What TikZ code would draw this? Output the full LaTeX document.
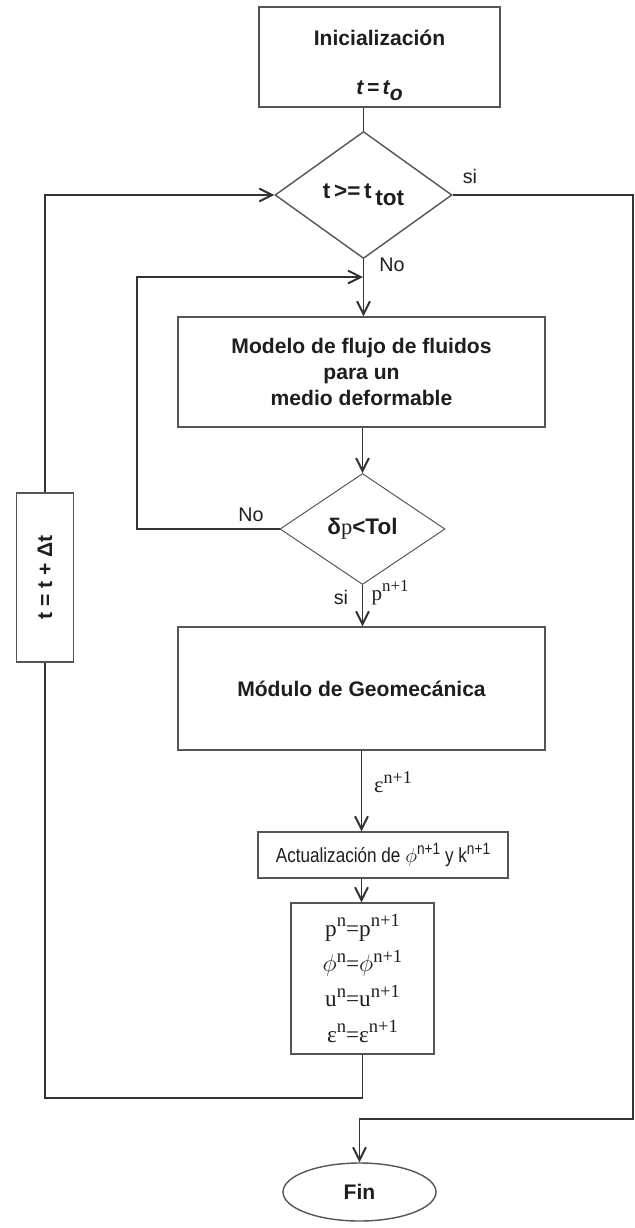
\documentclass[tikz,border=0pt]{standalone}
\usepackage{fontspec}
\usepackage{graphicx}
\usepackage{tikz}
\usetikzlibrary{arrows.meta,shapes.geometric,calc}
\setmainfont{Liberation Sans}
\newfontfamily\flowserif{Liberation Serif}
\newfontfamily\flownarrow[FakeStretch=0.84]{Liberation Sans}
\definecolor{flowink}{HTML}{333333}
\definecolor{flowedge}{HTML}{555555}
\definecolor{flowtext}{HTML}{1E1E1E}
\newcommand{\upidx}[1]{\raisebox{0.42em}{\scalebox{0.8}{#1}}}
\tikzset{
  flowbox/.style={draw=flowedge,line width=1pt,text=flowtext,inner sep=0pt,align=center,font=\bfseries\fontsize{15}{18.5}\selectfont},
  flowtest/.style={diamond,draw=flowedge,line width=1pt,inner sep=0pt,text=flowtext,font=\bfseries\fontsize{16}{18}\selectfont},
  flowarr/.style={-{Straight Barb[length=3.2mm,width=3.2mm]},draw=flowink,line width=1.4pt},
  flowlink/.style={draw=flowink,line width=1.4pt},
  flowlbl/.style={text=flowtext,font=\fontsize{14}{16}\selectfont,inner sep=0pt}
}
\begin{document}
\begin{tikzpicture}[x=0.25mm,y=-0.25mm]
\useasboundingbox (0,0) rectangle (635,1228);
\node[flowbox,minimum width=60.25mm,minimum height=25mm] (init) at (379.5,57) {\rule{0pt}{8mm}Inicialización\\[5.8mm]\textit{t\,=\,t\raisebox{-0.25em}{o}}};
\node[flowtest,minimum width=44.25mm,minimum height=31.75mm] (cond) at (363.5,195) {t\,>=\,t\,\raisebox{-0.3em}{tot}};
\node[flowbox,minimum width=91.75mm,minimum height=27.5mm] (model) at (361.5,372) {Modelo de flujo de fluidos\\para un\\medio deformable};
\node[flowtest,line width=0.7pt,minimum width=41.25mm,minimum height=27.75mm] (tol) at (362.5,529) {δ{\flowserif\mdseries p}<Tol};
\node[flowbox,minimum width=91.75mm,minimum height=30.75mm] (geo) at (361.5,688.5) {Módulo de Geomecánica};
\node[flowbox,font=\flownarrow\fontsize{14.5}{16}\selectfont,minimum width=62.5mm,minimum height=11.5mm] (upd) at (383,855) {Actualización de $\phi$\upidx{n+1} y k\upidx{n+1}};
\node[flowbox,font=\flowserif\fontsize{16.5}{25}\selectfont,minimum width=35.75mm,minimum height=37.75mm] (swap) at (362.5,978.5) {p\upidx{n}=p\upidx{n+1}\\$\phi$\upidx{n}=$\phi$\upidx{n+1}\\u\upidx{n}=u\upidx{n+1}\\ε\upidx{n}=ε\upidx{n+1}};
\node[flowbox,minimum width=14.25mm,minimum height=42.25mm] (dt) at (45,577.5) {\rotatebox{90}{t = t + Δt}};
\node[ellipse,draw=flowedge,line width=1pt,inner sep=0pt,text=flowtext,font=\bfseries\fontsize{15}{18}\selectfont,minimum width=38.25mm,minimum height=14.5mm] (fin) at (359.5,1192) {Fin};
\coordinate (rtop) at (633,195);
\coordinate (rbot) at (633,1119);
\coordinate (il) at (137,277);
\coordinate (jn) at (363,277);
\coordinate (lb) at (45,1098);
\draw[flowlink] (init.south -| cond.north) -- (cond.north);
\draw[flowarr] (cond.east) -- (rtop) -- (rbot) -| (fin.north);
\draw[flowarr] (cond.south) -- (model.north -| cond.south);
\draw[flowarr] (tol.west) -| (il) -- (jn);
\draw[flowarr] (model.south -| tol.north) -- (tol.north);
\draw[flowarr] (tol.south) -- (tol.south |- geo.north);
\draw[flowarr] (geo.south) -- (geo.south |- upd.north);
\draw[flowarr] (geo.south |- upd.south) -- (geo.south |- swap.north);
\draw[flowlink] (swap.south) |- (lb) -- (dt.south);
\draw[flowarr] (dt.north) |- (cond.west);
\node[flowlbl] (si1) at (470,176) {si};
\node[flowlbl] (no1) at (392,265) {No};
\node[flowlbl] (no2) at (251,515) {No};
\node[flowlbl] (si2) at (341,597) {si};
\node[flowlbl,font=\flowserif\fontsize{15}{16}\selectfont] (pn) at (390,593) {p\upidx{n+1}};
\node[flowlbl,font=\flowserif\fontsize{16}{18}\selectfont] (en) at (393,782) {ε\upidx{n+1}};
\end{tikzpicture}
\end{document}
